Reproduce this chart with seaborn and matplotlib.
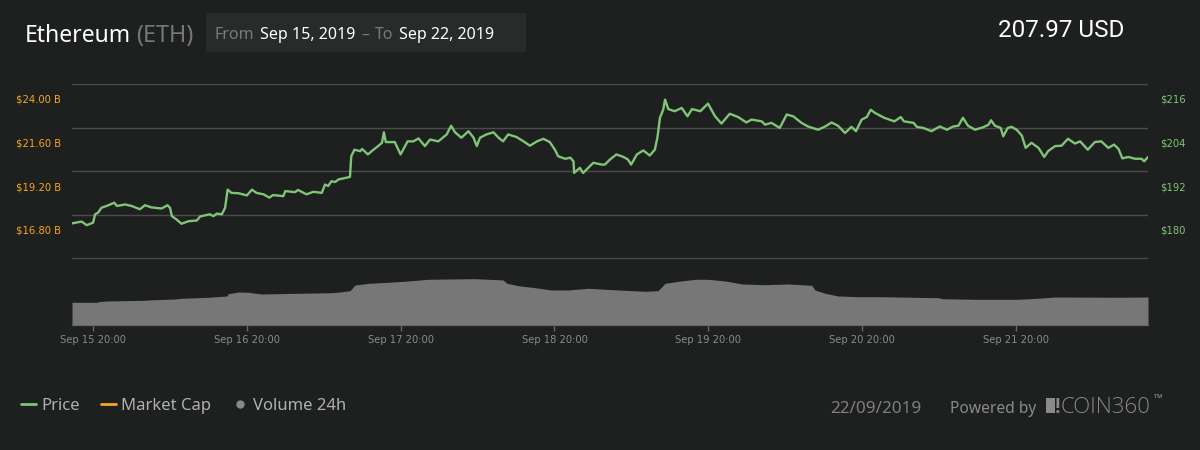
import numpy as np
import pandas as pd
import seaborn as sns
import matplotlib.pyplot as plt
import matplotlib.dates as mdates
from matplotlib.transforms import ScaledTranslation
from matplotlib.lines import Line2D
from matplotlib.patches import Rectangle

# Данные (часы от начала периода)
START = pd.Timestamp('2019-09-15 16:40')

price_hours = [
    0.0, 1.5, 2.3, 3.3, 3.6, 4.1, 4.6, 5.7, 6.6, 7.0, 8.3, 9.3, 10.6, 11.4, 12.4,
    14.0, 14.9, 15.3, 15.6, 16.3, 17.1, 18.2, 19.5, 20.0, 21.5, 22.1, 22.6, 23.4,
    23.9, 24.3, 24.9, 26.0, 27.3, 28.1, 28.8, 29.9, 30.8, 31.4, 33.0, 33.3, 34.8,
    35.3, 36.6, 37.7, 39.0, 39.5, 40.0, 40.5, 41.1, 41.6, 42.4, 43.4, 43.6, 44.1,
    45.0, 45.3, 46.2, 47.0, 47.8, 48.4, 48.7, 49.0, 50.4, 51.3, 52.4, 53.3, 54.1,
    55.1, 55.9, 57.2, 58.5, 59.2, 59.8, 60.8, 61.9, 62.7, 63.2, 63.7, 64.7, 65.8,
    66.6, 67.3, 68.1, 69.4, 70.5, 71.5, 72.6, 73.6, 74.6, 75.4, 75.9, 77.0, 77.8,
    78.3, 78.4, 79.3, 79.8, 81.4, 82.7, 83.2, 84.0, 85.0, 86.1, 86.8, 87.3, 88.2,
    89.2, 90.2, 91.0, 91.4, 91.8, 92.3, 92.6, 93.1, 94.1, 95.2, 96.1, 96.8, 98.1,
    99.3, 100.4, 101.4, 102.7, 104.0, 105.3, 106.1, 107.7, 108.2, 109.2, 110.5,
    111.6, 112.6, 113.9, 114.9, 116.5, 117.6, 118.6, 119.6, 120.7, 121.7, 122.4,
    123.3, 124.1, 124.7, 125.4, 126.8, 128.4, 129.4, 129.9, 131.4, 131.9, 132.9,
    134.2, 135.5, 136.6, 137.6, 138.4, 139.1, 139.9, 141.0, 142.3, 143.1, 143.5,
    144.1, 145.0, 145.4, 146.1, 146.7, 147.5, 148.3, 148.9, 149.8, 150.9, 151.8,
    152.4, 153.5, 154.5, 155.5, 156.6, 157.4, 158.6, 159.7, 160.7, 161.8, 162.7,
    163.4, 164.0, 164.9, 166.0, 167.0, 167.4, 168.0,
]
price_usd = [
    177.6, 178.1, 177.1, 177.8, 180.1, 180.6, 181.9, 182.6, 183.3, 182.4, 182.8,
    182.4, 181.5, 182.6, 182.0, 181.7, 182.6, 181.9, 179.6, 178.7, 177.5, 178.2,
    178.4, 179.5, 180.1, 179.6, 180.3, 180.1, 181.9, 186.9, 186.0, 185.9, 185.3,
    186.9, 186.0, 185.6, 184.7, 185.4, 185.1, 186.5, 186.2, 186.8, 185.6, 186.3,
    186.0, 188.3, 187.9, 189.2, 189.0, 189.7, 190.0, 190.4, 196.1, 197.9, 197.5,
    198.1, 196.6, 197.8, 198.9, 199.8, 202.7, 200.0, 200.0, 196.6, 200.2, 200.2,
    201.0, 198.9, 200.7, 200.2, 202.1, 204.5, 202.7, 201.2, 203.0, 201.2, 198.9,
    201.2, 202.1, 202.7, 201.2, 200.2, 202.1, 201.4, 200.2, 199.0, 200.2, 200.9,
    200.0, 197.9, 196.1, 195.4, 195.7, 194.7, 191.5, 192.9, 191.5, 194.3, 193.8,
    193.8, 195.2, 196.6, 195.9, 195.2, 193.8, 196.6, 197.7, 196.3, 197.9, 201.2,
    206.7, 208.9, 211.7, 209.1, 208.5, 209.4, 207.1, 209.1, 208.5, 210.6, 207.1,
    205.1, 207.8, 206.9, 205.4, 206.2, 205.7, 204.8, 205.3, 203.9, 207.6, 207.1,
    205.3, 204.3, 203.4, 204.3, 205.4, 204.5, 202.5, 204.2, 203.0, 206.2, 206.9,
    208.9, 208.0, 206.7, 205.7, 206.9, 205.7, 205.3, 204.2, 203.9, 203.0, 204.3,
    203.4, 204.3, 204.5, 206.7, 204.5, 203.4, 204.1, 204.8, 206.0, 204.5, 203.9,
    201.6, 203.9, 204.2, 203.4, 201.8, 198.4, 199.8, 198.4, 195.9, 197.5, 198.9,
    199.0, 200.9, 199.6, 200.2, 197.9, 200.0, 200.2, 198.4, 199.3, 198.1, 195.5,
    195.9, 195.4, 195.4, 194.7, 195.9,
]

volume_hours = [
    0.0, 3.9, 4.1, 5.4, 11.4, 11.9, 16.1, 17.1, 21.3, 24.2, 24.4, 26.0, 27.5,
    29.6, 35.3, 40.5, 41.8, 43.4, 44.2, 46.3, 49.4, 52.5, 55.6, 59.3, 62.9, 67.3,
    67.9, 69.7, 72.3, 74.9, 77.5, 80.6, 83.2, 86.3, 89.5, 91.5, 92.6, 94.7, 97.3,
    99.3, 102.0, 104.6, 108.2, 111.8, 115.5, 116.0, 117.6, 119.6, 122.8, 126.2,
    135.3, 135.8, 141.0, 147.7, 151.4, 153.5, 163.9, 168.0,
]
volume_bn = [
    4.71, 4.71, 4.83, 4.98, 5.13, 5.19, 5.40, 5.54, 5.75, 6.02, 6.49, 6.85, 6.79,
    6.43, 6.58, 6.70, 6.85, 7.12, 8.30, 8.65, 8.86, 9.13, 9.48, 9.55, 9.61, 9.34,
    8.65, 8.15, 7.74, 7.26, 7.26, 7.62, 7.41, 7.20, 6.99, 7.12, 8.65, 9.07, 9.48,
    9.48, 9.13, 8.51, 8.36, 8.51, 8.24, 7.26, 6.58, 6.02, 5.87, 5.87, 5.66, 5.46,
    5.33, 5.33, 5.60, 5.81, 5.75, 5.81,
]

cap_ticks = [14.4, 16.8, 19.2, 21.6, 24.0]
cap_labels = ['', '$16.80 B', '$19.20 B', '$21.60 B', '$24.00 B']
price_ticks = [168, 180, 192, 204, 216]
price_labels = ['', '$180', '$192', '$204', '$216']
x_ticks = pd.date_range('2019-09-15 20:00', '2019-09-21 20:00', freq='D')

BG = '#1e1f1f'
GREEN = '#80c478'
ORANGE = '#f5a623'
GRID = '#4b4b4b'

sns.set_theme(style='dark', rc={
    'figure.facecolor': BG,
    'axes.facecolor': BG,
    'savefig.facecolor': BG,
})
plt.rcParams['font.family'] = ['DejaVu Sans']

fig = plt.figure(figsize=(12, 4.5), dpi=100)
ax_cap = fig.add_axes([72 / 1200, 125 / 450, 1076 / 1200, 241 / 450])
ax_vol = ax_cap.twinx()
ax_price = ax_cap.twinx()

t_end = START + pd.Timedelta(hours=168)
ax_cap.set_xlim(START, t_end)

# объём
vol_times = START + pd.to_timedelta(volume_hours, unit='h')
ax_vol.fill_between(vol_times, 0, volume_bn, color='#777777', linewidth=0)
ax_vol.set_ylim(0, 50)
ax_vol.set_yticks([])

# цена
df = pd.DataFrame({'time': START + pd.to_timedelta(price_hours, unit='h'),
                   'price': price_usd})
sns.lineplot(data=df, x='time', y='price', ax=ax_price, color=GREEN,
             linewidth=1.7, legend=False)
ax_price.set_ylim(149.6, 216)
ax_price.set_yticks(price_ticks)
ax_price.set_yticklabels(price_labels)
ax_price.set_xlabel('')
ax_price.set_ylabel('')

# капитализация: только шкала и сетка
ax_cap.set_ylim(10.72, 24.0)
ax_cap.set_yticks(cap_ticks)
ax_cap.set_yticklabels(cap_labels)
ax_cap.grid(axis='y', color=GRID, linewidth=1)
ax_cap.grid(axis='x', visible=False)

ax_cap.set_xticks(x_ticks)
ax_cap.xaxis.set_major_formatter(mdates.DateFormatter('%b %d %H:%M'))
ax_cap.tick_params(axis='x', direction='out', length=4, width=1, color='#666666',
                   labelcolor='#8a8a8a', labelsize=7.2, pad=3, bottom=True)
ax_cap.tick_params(axis='y', length=0, labelcolor=ORANGE, labelsize=7.2, pad=8)
ax_price.tick_params(axis='y', length=0, labelcolor=GREEN, labelsize=7.2, pad=9)

for ax in (ax_cap, ax_vol, ax_price):
    for side in ('top', 'left', 'right', 'bottom'):
        ax.spines[side].set_visible(False)
ax_cap.spines['bottom'].set_visible(True)
ax_cap.spines['bottom'].set_color('#555555')
ax_cap.spines['bottom'].set_linewidth(1)

# подписи осей сдвинуты ниже линий сетки
shift = ScaledTranslation(0, -0.15, fig.dpi_scale_trans)
for tick in ax_cap.yaxis.get_major_ticks():
    tick.label1.set_transform(tick.label1.get_transform() + shift)
for tick in ax_price.yaxis.get_major_ticks():
    tick.label2.set_transform(tick.label2.get_transform() + shift)

# заголовок
sans = ['Noto Sans', 'DejaVu Sans']
fig.text(25 / 1200, 1 - 42 / 450, 'Ethereum', color='white', fontsize=16.5,
         family=sans, va='baseline')
fig.text(136 / 1200, 1 - 42 / 450, '(ETH)', color='#777777', fontsize=16.8,
         family=sans, va='baseline')
fig.patches.append(Rectangle((206 / 1200, 1 - 52 / 450), 320 / 1200, 39 / 450,
                             transform=fig.transFigure, facecolor='#292a2a',
                             edgecolor='none', zorder=0))
for x, s, c in [(215, 'From', '#7a7a7a'), (260, 'Sep 15, 2019', 'white'),
                (361, '–', '#7a7a7a'), (375, 'To', '#7a7a7a'),
                (399, 'Sep 22, 2019', 'white')]:
    fig.text(x / 1200, 1 - 39 / 450, s, color=c, fontsize=11.5, family=sans,
             va='baseline')
fig.text(1124 / 1200, 1 - 37 / 450, '207.97 USD', color='white', fontsize=17.5,
         family=['Roboto', 'DejaVu Sans'], ha='right', va='baseline')

# легенда
handles = [
    Line2D([], [], color=GREEN, linewidth=2),
    Line2D([], [], color=ORANGE, linewidth=2),
    Line2D([], [], color='#888888', marker='o', linestyle='none', markersize=5),
]
leg = fig.legend(handles, ['Price', 'Market Cap', 'Volume 24h'],
                 loc='center left', bbox_to_anchor=(6 / 1200, 1 - 406 / 450),
                 ncol=3, frameon=False, handlelength=0.9, handletextpad=0.3,
                 columnspacing=1.3, prop={'family': 'Noto Sans', 'size': 12})
for txt in leg.get_texts():
    txt.set_color('#b0b0b0')

# подвал
fig.text(830 / 1200, 1 - 413 / 450, '22/09/2019', color='#7f7f7f', fontsize=12.3,
         family=sans, va='baseline')
fig.text(950 / 1200, 1 - 413 / 450, 'Powered by', color='#8a8a8a', fontsize=11.2,
         family=sans, va='baseline')
fig.patches.append(Rectangle((1046 / 1200, 1 - 413 / 450), 9 / 1200, 15 / 450,
                             transform=fig.transFigure, facecolor='#8a8a8a',
                             edgecolor='none'))
fig.text(1055 / 1200, 1 - 413 / 450, '!', color='#8a8a8a', fontsize=15,
         family=['Roboto', 'DejaVu Sans'], fontweight='bold', va='baseline')
fig.text(1061 / 1200, 1 - 413 / 450, 'COIN360', color='#8a8a8a', fontsize=16,
         family=['Open Sans', 'DejaVu Sans'], fontweight='light', va='baseline')
fig.text(1154 / 1200, 1 - 402 / 450, '™', color='#8a8a8a', fontsize=8,
         family=sans, va='baseline')

fig.savefig('out.png', dpi=100)
plt.close(fig)
